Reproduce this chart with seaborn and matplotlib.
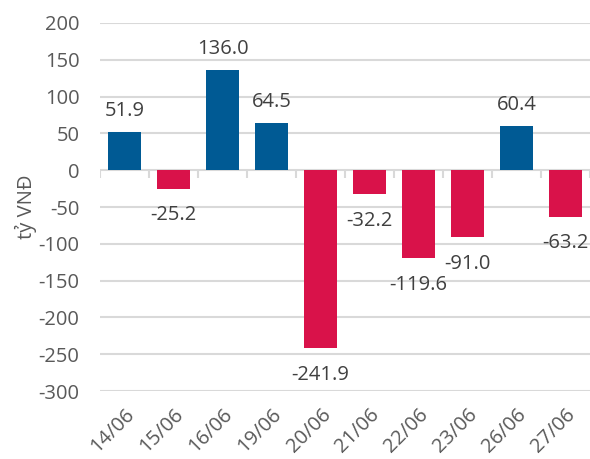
import numpy as np
import pandas as pd
import matplotlib
matplotlib.use("Agg")
import matplotlib.pyplot as plt
import seaborn as sns

# data
dates = ["14/06", "15/06", "16/06", "19/06", "20/06", "21/06", "22/06", "23/06", "26/06", "27/06"]
values = [51.9, -25.2, 136.0, 64.5, -241.9, -32.2, -119.6, -91.0, 60.4, -63.2]
y_ticks = [200, 150, 100, 50, 0, -50, -100, -150, -200, -250, -300]

df = pd.DataFrame({"date": dates, "value": values})
df["sign"] = np.where(df["value"] >= 0, "pos", "neg")

sns.set_style("white")
plt.rcParams["font.family"] = ["Open Sans", "DejaVu Sans"]
plt.rcParams["axes.unicode_minus"] = False
text_color = "#595959"
grid_color = "#D9D9D9"
fs = 14.5

fig = plt.figure(figsize=(5.9, 4.59), dpi=100)
ax = fig.add_axes([0.17, 0.148, 0.83, 0.802])

sns.barplot(data=df, x="date", y="value", hue="sign",
            palette={"pos": "#005A94", "neg": "#D9124A"}, saturation=1,
            dodge=False, legend=False, width=0.67, linewidth=0, ax=ax)

ax.set_ylim(-300, 200)
ax.set_xlim(-0.5, len(dates) - 0.5)
ax.set_yticks(y_ticks)
ax.yaxis.grid(True, color=grid_color, linewidth=1.5)
ax.set_axisbelow(True)
for s in ax.spines.values():
    s.set_visible(False)

# small ticks on the zero line between categories
ax.vlines(np.arange(len(dates) + 1) - 0.5, -10, 0, color=grid_color, linewidth=1.5, zorder=0)

# value labels: above positive bars, below negative ones
for cont in ax.containers:
    for bar in cont:
        v = bar.get_height()
        pad = 8 if v >= 0 else 12
        ax.annotate(f"{v:.1f}", (bar.get_x() + bar.get_width() / 2, v),
                    xytext=(0, pad if v >= 0 else -pad), textcoords="offset points",
                    ha="center", va="bottom" if v >= 0 else "top",
                    fontsize=fs, color="#404040")

ax.tick_params(axis="both", length=0, labelsize=fs, labelcolor=text_color)
ax.tick_params(axis="y", pad=15)
ax.set_xticks(range(len(dates)))
ax.set_xticklabels(dates, rotation=45, ha="right", rotation_mode="anchor")
ax.tick_params(axis="x", pad=10)
ax.set_xlabel("")
ax.set_ylabel("tỷ VNĐ", fontsize=fs, color=text_color, labelpad=1)

fig.savefig("out.png", dpi=100)
